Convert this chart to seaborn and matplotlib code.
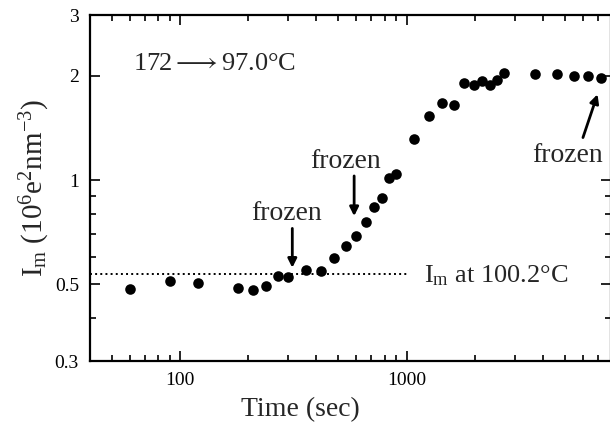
import numpy as np
import pandas as pd
import matplotlib
matplotlib.use("Agg")
import matplotlib.pyplot as plt
from matplotlib.ticker import FixedLocator, NullFormatter
import seaborn as sns

# datos
tiempo = [60, 90, 120, 180, 210, 240, 270, 300, 360, 420, 480, 540, 600, 660,
          720, 780, 840, 900, 1080, 1260, 1440, 1620, 1800, 1980, 2160, 2340,
          2520, 2700, 3700, 4600, 5500, 6350, 7250]
im = [0.483, 0.511, 0.504, 0.489, 0.482, 0.495, 0.527, 0.525, 0.548, 0.546,
      0.595, 0.646, 0.691, 0.755, 0.838, 0.886, 1.016, 1.039, 1.311, 1.535,
      1.666, 1.652, 1.912, 1.883, 1.933, 1.879, 1.946, 2.034, 2.02, 2.025,
      2.003, 1.995, 1.977]

nivel_ref = 0.535          # I_m a 100.2 C
ref_x = [40, 1000]

yticks = [0.3, 0.5, 1, 2, 3]
ytick_labels = ['0.3', '0.5', '1', '2', '3']
xticks = [100, 1000]
xtick_labels = ['100', '1000']

df = pd.DataFrame({'t': tiempo, 'im': im})

sns.set_style("ticks")
plt.rcParams['font.family'] = ['Liberation Serif', 'DejaVu Serif']
plt.rcParams['mathtext.fontset'] = 'custom'
plt.rcParams['mathtext.rm'] = 'Liberation Serif'
plt.rcParams['mathtext.it'] = 'Liberation Serif:italic'
plt.rcParams['mathtext.default'] = 'rm'

fig = plt.figure(figsize=(6.1, 4.26), dpi=100)
ax = fig.add_axes([90 / 610, 65 / 426, 521 / 610, 346 / 426])

sns.scatterplot(data=df, x='t', y='im', ax=ax, color='black', s=58,
                edgecolor='black', linewidth=0, zorder=3)
ax.plot(ref_x, [nivel_ref, nivel_ref], linestyle=':', color='black', lw=1.4)

ax.set_xscale('log')
ax.set_yscale('log')
ax.set_xlim(40, 8000)
ax.set_ylim(0.3, 3)

ax.xaxis.set_major_locator(FixedLocator(xticks))
ax.set_xticklabels(xtick_labels)
ax.xaxis.set_minor_locator(FixedLocator(
    [50, 60, 70, 80, 90, 200, 300, 400, 500, 600, 700, 800, 900,
     2000, 3000, 4000, 5000, 6000, 7000]))
ax.xaxis.set_minor_formatter(NullFormatter())
ax.yaxis.set_major_locator(FixedLocator(yticks))
ax.set_yticklabels(ytick_labels)
ax.yaxis.set_minor_locator(FixedLocator([0.4, 0.6, 0.7, 0.8, 0.9]))
ax.yaxis.set_minor_formatter(NullFormatter())

ax.tick_params(which='both', direction='in', top=True, right=True,
               labelsize=14, width=1.2, colors='black')
ax.tick_params(which='major', length=7, pad=8)
ax.tick_params(which='minor', length=4)
for s in ax.spines.values():
    s.set_linewidth(1.6)
    s.set_color('black')

ax.set_xlabel('Time (sec)', fontsize=20)
ax.xaxis.set_label_coords((300 - 90) / 521, -0.105)
ax.set_ylabel(r'I$_\mathrm{m}$ (10$^6$e$^2$nm$^{-3}$)', fontsize=21, labelpad=2)

ax.text(62, 2.16, r'172$\longrightarrow$97.0°C', fontsize=19, va='center', ha='left')
ax.text(1200, 0.53, r'I$_\mathrm{m}$ at 100.2°C', fontsize=19, va='center', ha='left')

flecha = dict(arrowstyle='-|>', color='black', lw=2, mutation_scale=13,
              shrinkA=0, shrinkB=0)
ax.annotate('', xy=(313, 0.558), xytext=(313, 0.725), arrowprops=flecha)
ax.text(295, 0.80, 'frozen', fontsize=20, ha='center', va='center')
ax.annotate('', xy=(587, 0.787), xytext=(587, 1.028), arrowprops=flecha)
ax.text(537, 1.128, 'frozen', fontsize=20, ha='center', va='center')
ax.annotate('', xy=(6975, 1.77), xytext=(6015, 1.327), arrowprops=flecha)
ax.text(5164, 1.18, 'frozen', fontsize=20, ha='center', va='center')

plt.savefig('out.png', dpi=100)
